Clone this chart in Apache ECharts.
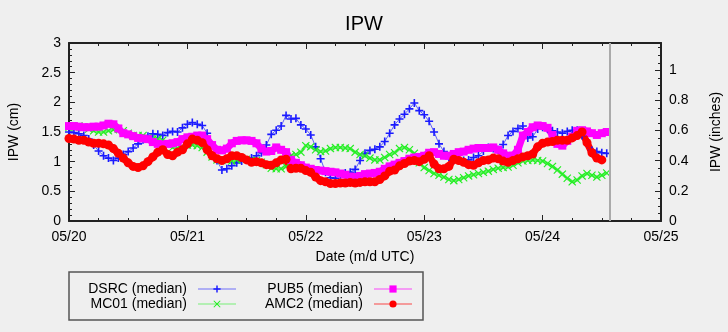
<!DOCTYPE html>
<html>
<head>
<meta charset="utf-8">
<script src="https://cdn.jsdelivr.net/npm/echarts@6/dist/echarts.min.js"></script>
<style>html,body{margin:0;padding:0;background:#efefef;}#c{width:728px;height:332px;}</style>
</head>
<body>
<div id="c"></div>
<script>
// Hourly medians starting 05/20 00:00 UTC (cm)
const dateLabels = ['05/20', '05/21', '05/22', '05/23', '05/24', '05/25'];
const seriesNames = ['DSRC (median)', 'MC01 (median)', 'PUB5 (median)', 'AMC2 (median)'];
const dsrc = [
  1.50,1.49,1.47,1.44,1.38,1.28,1.18,1.10,1.06,1.02,
  1.06,1.12,1.17,1.23,1.30,1.37,1.43,1.47,1.46,1.44,
  1.49,1.51,1.50,1.57,1.63,1.66,1.63,1.61,1.48,1.28,
  1.02,0.86,0.88,0.93,0.98,1.01,1.03,1.06,1.10,1.15,
  1.28,1.46,1.53,1.60,1.78,1.72,1.73,1.62,1.55,1.45,
  1.25,1.05,0.82,0.73,0.72,0.78,0.81,0.82,0.87,1.02,
  1.14,1.19,1.21,1.25,1.34,1.48,1.62,1.72,1.80,1.89,
  1.99,1.86,1.79,1.68,1.50,1.30,1.17,1.08,1.04,1.02,
  1.02,1.03,1.07,1.10,1.18,1.24,1.22,1.20,1.29,1.44,
  1.51,1.56,1.60,1.40,1.42,1.55,1.58,1.56,1.52,1.50,
  1.48,1.51,1.53,1.53,1.44,1.31,1.19,1.17,1.15,1.14
];
const mc01 = [
  1.58,1.58,1.60,1.58,1.55,1.52,1.50,1.50,1.52,1.54,
  1.55,1.52,1.48,1.44,1.44,1.44,1.40,1.38,1.38,1.36,
  1.30,1.24,1.23,1.25,1.28,1.28,1.27,1.24,1.16,1.08,
  1.03,1.02,1.02,1.01,1.03,1.05,1.04,1.02,1.02,0.99,
  0.95,0.89,0.88,0.88,0.92,1.10,1.12,1.16,1.27,1.25,
  1.20,1.17,1.18,1.22,1.24,1.24,1.23,1.22,1.16,1.12,
  1.10,1.06,1.03,1.03,1.07,1.12,1.15,1.22,1.24,1.20,
  1.14,0.98,0.90,0.85,0.80,0.77,0.74,0.70,0.68,0.70,
  0.73,0.76,0.78,0.80,0.82,0.84,0.87,0.89,0.90,0.91,
  0.94,0.98,1.01,1.02,1.03,1.02,1.01,0.97,0.92,0.86,
  0.79,0.72,0.66,0.69,0.76,0.80,0.77,0.74,0.77,0.81
];
const pub5 = [
  1.60,1.60,1.59,1.58,1.58,1.59,1.59,1.61,1.64,1.63,
  1.56,1.48,1.46,1.43,1.40,1.39,1.38,1.33,1.30,1.29,
  1.30,1.31,1.33,1.38,1.41,1.42,1.44,1.44,1.38,1.28,
  1.20,1.19,1.22,1.31,1.35,1.36,1.36,1.35,1.31,1.22,
  1.17,1.18,1.24,1.20,1.16,1.03,0.98,0.94,0.90,0.88,
  0.86,0.85,0.84,0.83,0.82,0.80,0.78,0.75,0.74,0.76,
  0.79,0.80,0.81,0.83,0.88,0.92,0.95,0.98,1.01,1.05,
  1.07,1.08,1.10,1.15,1.16,1.13,1.10,1.10,1.13,1.16,
  1.17,1.20,1.22,1.23,1.23,1.23,1.24,1.20,1.14,1.10,
  1.10,1.20,1.44,1.50,1.58,1.61,1.60,1.57,1.45,1.30,
  1.27,1.35,1.42,1.52,1.53,1.51,1.48,1.45,1.48,1.50
];
const amc2 = [
  1.39,1.38,1.36,1.36,1.33,1.31,1.31,1.30,1.28,1.22,
  1.14,1.06,0.98,0.92,0.90,0.93,1.00,1.08,1.16,1.20,
  1.12,1.10,1.16,1.20,1.30,1.38,1.36,1.32,1.20,1.10,
  1.05,1.02,1.05,1.10,1.10,1.07,1.03,0.99,1.00,0.98,
  0.95,0.94,0.98,1.03,1.04,0.88,0.89,0.89,0.85,0.82,
  0.74,0.68,0.66,0.63,0.63,0.64,0.64,0.65,0.64,0.65,
  0.66,0.66,0.66,0.70,0.76,0.84,0.86,0.93,0.97,1.01,
  1.02,1.00,1.04,1.10,0.96,0.88,0.88,0.92,1.04,1.02,
  0.99,0.95,0.94,0.98,1.02,1.03,1.06,1.05,1.01,0.99,
  1.02,1.05,1.08,1.10,1.13,1.25,1.31,1.33,1.34,1.36,
  1.36,1.36,1.40,1.44,1.50,1.32,1.15,1.06,1.03
];
const nowHour = 109.7; // current-time marker (hours after 05/20 00:00)

const FONT = 'Liberation Sans';
const toPairs = arr => arr.map((v, i) => [i, v]);
const plusPath = 'path://M4,0H6V4H10V6H6V10H4V6H0V4H4Z';
const starPath = 'path://M0,1L1,0L5,4L9,0L10,1L6,5L10,9L9,10L5,6L1,10L0,9L4,5Z';

const chart = echarts.init(document.getElementById('c'), null, {renderer: 'canvas'});

const tickStyle = {color: '#222', width: 1};
const axisLineStyle = {color: '#222', width: 2};
const labelStyle = {color: '#000', fontSize: 14, fontFamily: FONT};

function legendItem(name, right, top) {
  return {
    data: [name], right: right, top: top, orient: 'horizontal', align: 'right',
    itemWidth: 38, itemHeight: 9, padding: 0, selectedMode: false,
    textStyle: {color: '#000', fontSize: 14, fontFamily: FONT, padding: [0, 6, 0, 0]},
    lineStyle: {width: 2, opacity: 0.35}
  };
}

const option = {
  backgroundColor: '#efefef',
  animation: false,
  title: {
    text: 'IPW', left: 'center', top: 9,
    textStyle: {fontSize: 20, fontWeight: 'normal', color: '#000', fontFamily: FONT}
  },
  grid: {left: 69, right: 67, top: 43, bottom: 111, containLabel: false, outerBoundsMode: 'none'},
  legend: [
    legendItem(seriesNames[0], 491, 282),
    legendItem(seriesNames[1], 491, 297),
    legendItem(seriesNames[2], 315, 282),
    legendItem(seriesNames[3], 315, 297)
  ],
  graphic: [{
    type: 'rect', shape: {x: 69, y: 272, width: 354, height: 48},
    style: {fill: 'none', stroke: '#555', lineWidth: 1.5}, silent: true, z: 100
  }],
  xAxis: [
    {
      type: 'value', position: 'bottom', min: 0, max: 120, interval: 24,
      axisLine: {show: true, onZero: false, lineStyle: axisLineStyle},
      axisTick: {show: true, inside: true, length: 6, lineStyle: tickStyle},
      minorTick: {show: true, splitNumber: 4, length: 3, lineStyle: tickStyle},
      splitLine: {show: false},
      axisLabel: Object.assign({margin: 9, formatter: v => dateLabels[Math.round(v / 24)] || ''}, labelStyle),
      name: 'Date (m/d UTC)', nameLocation: 'middle', nameGap: 29,
      nameTextStyle: labelStyle
    },
    {
      type: 'value', position: 'top', min: 0, max: 120, interval: 24,
      axisLine: {show: true, onZero: false, lineStyle: axisLineStyle},
      axisTick: {show: true, inside: true, length: 6, lineStyle: tickStyle},
      minorTick: {show: true, splitNumber: 4, length: 3, lineStyle: tickStyle},
      splitLine: {show: false},
      axisLabel: {show: false}
    }
  ],
  yAxis: [
    {
      type: 'value', position: 'left', min: 0, max: 3, interval: 0.5,
      axisLine: {show: true, onZero: false, lineStyle: axisLineStyle},
      axisTick: {show: true, inside: true, length: 6, lineStyle: tickStyle},
      minorTick: {show: true, splitNumber: 5, length: 3, lineStyle: tickStyle},
      splitLine: {show: false},
      axisLabel: Object.assign({margin: 8}, labelStyle),
      name: 'IPW (cm)', nameLocation: 'middle', nameGap: 48, nameRotate: 90,
      nameTextStyle: labelStyle
    },
    {
      type: 'value', position: 'right', min: 0, max: 3 / 2.54, interval: 0.2,
      axisLine: {show: true, onZero: false, lineStyle: axisLineStyle},
      axisTick: {show: true, inside: true, length: 6, lineStyle: tickStyle},
      minorTick: {show: true, splitNumber: 4, length: 3, lineStyle: tickStyle},
      splitLine: {show: false},
      axisLabel: Object.assign({margin: 8, showMaxLabel: false}, labelStyle),
      name: 'IPW (inches)', nameLocation: 'middle', nameGap: 48, nameRotate: 90,
      nameTextStyle: labelStyle
    }
  ],
  series: [
    {
      name: seriesNames[0], type: 'line', data: toPairs(dsrc),
      symbol: plusPath, symbolSize: 8, showSymbol: true,
      itemStyle: {color: '#1a1aff'},
      lineStyle: {color: '#3a3aff', width: 1, opacity: 0.8},
      silent: true,
      markLine: {
        symbol: 'none', silent: true, label: {show: false},
        lineStyle: {color: '#aaaaaa', width: 2, type: 'solid'},
        data: [{xAxis: nowHour}]
      }
    },
    {
      name: seriesNames[1], type: 'line', data: toPairs(mc01),
      symbol: starPath, symbolSize: 8, showSymbol: true,
      itemStyle: {color: '#22ee22'},
      lineStyle: {color: '#44f044', width: 3, opacity: 0.8},
      silent: true
    },
    {
      name: seriesNames[2], type: 'line', data: toPairs(pub5),
      symbol: 'rect', symbolSize: 8, showSymbol: true,
      itemStyle: {color: '#ff00ff'},
      lineStyle: {color: '#ff00ff', width: 7, opacity: 1},
      silent: true
    },
    {
      name: seriesNames[3], type: 'line', data: toPairs(amc2),
      symbol: 'circle', symbolSize: 9, showSymbol: true,
      itemStyle: {color: '#ff0000'},
      lineStyle: {color: '#ff0000', width: 7, opacity: 1},
      silent: true
    }
  ]
};
chart.setOption(option);
</script>
</body>
</html>
